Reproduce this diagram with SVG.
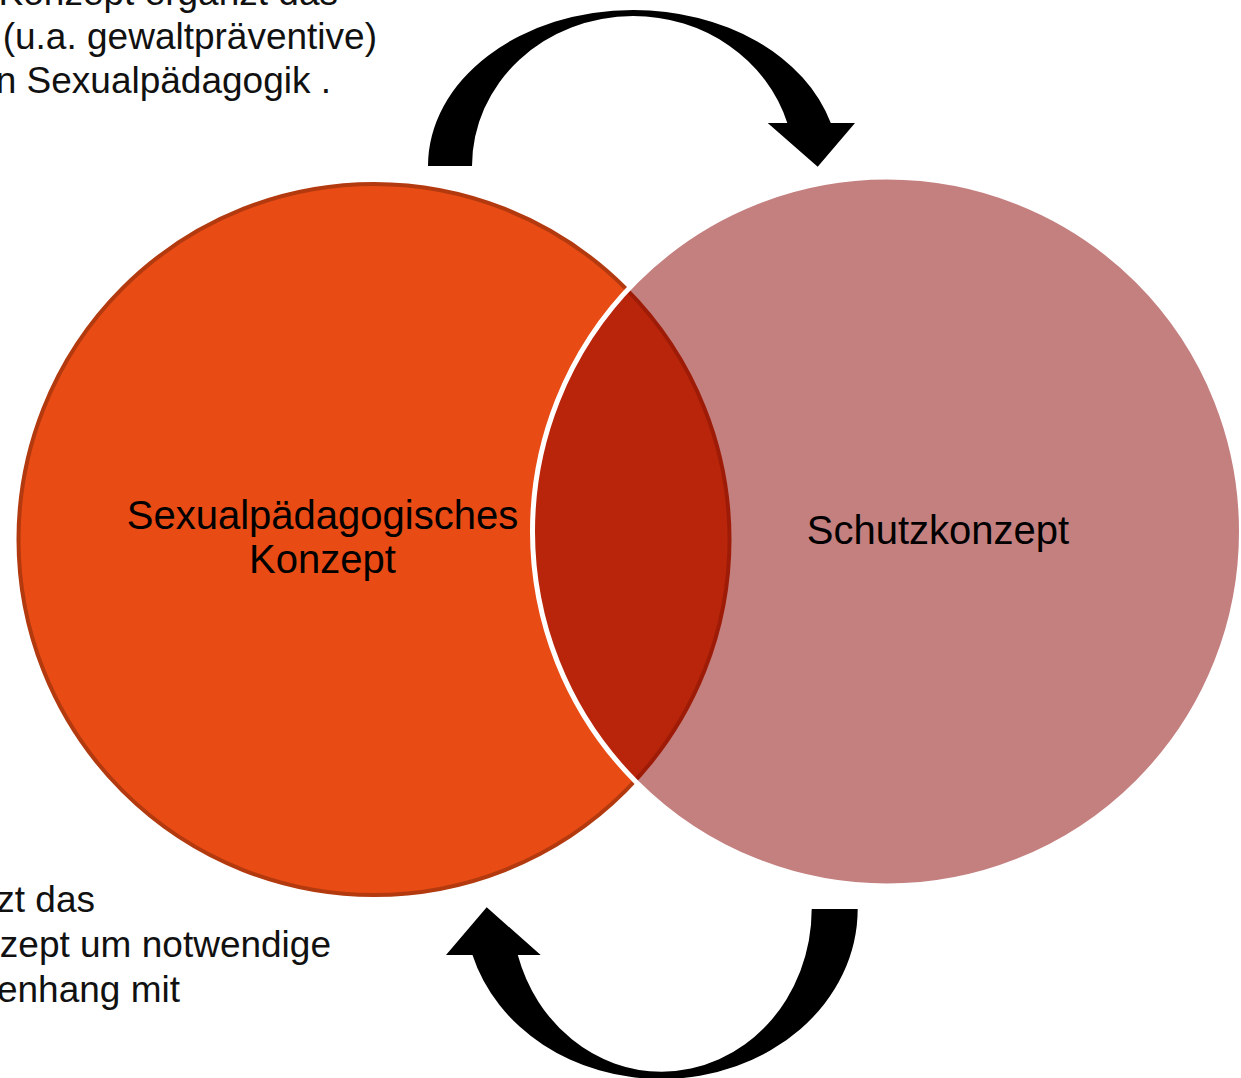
<svg xmlns="http://www.w3.org/2000/svg" width="1241" height="1078" viewBox="0 0 1241 1078">
<style>
.lbl{font-family:"Liberation Sans",Arial,sans-serif;font-size:40px;fill:#000;text-anchor:middle}
.side{font-family:"Liberation Sans",Arial,sans-serif;font-size:37px;fill:#111;text-anchor:end}
.arrow{fill:#000;stroke:none}
</style>
<rect width="1241" height="1078" fill="#fff"/>
<g id="node-sexualpaedagogisch">
<circle cx="374" cy="539.5" r="355.5" fill="#E84B14" stroke="#B3390F" stroke-width="4"/>
</g>
<g id="node-schutzkonzept">
<circle cx="887" cy="531.5" r="354.5" fill="#890000" fill-opacity="0.5" stroke="#fff" stroke-width="5"/>
<text class="lbl" x="938" y="544">Schutzkonzept</text>
</g>
<g id="label-sexualpaedagogisch">
<text class="lbl" x="322.5" y="529">Sexualpädagogisches</text>
<text class="lbl" x="322.5" y="573">Konzept</text>
</g>
<g id="connectors">
<path class="arrow" d="M428,166 A205,156 0 0 1 633,10 A205,156 0 0 1 830.8,123 L855,123 L817.7,166.7 L767.7,123 L787.3,123 A161,150 0 0 0 633,16 A161,150 0 0 0 472,166 Z"/>
<path class="arrow" d="M857.7,909 A196,170 0 0 1 661.7,1079 A196,170 0 0 1 472.5,955 L446,955 L486.7,907.3 L540.7,955 L517.8,955 A150,162.7 0 0 0 661.7,1071.7 A150,162.7 0 0 0 811.7,909 Z"/>
</g>
<g id="text-top">
<text class="side" x="338" y="5">Konzept ergänzt das</text>
<text class="side" x="377" y="49">(u.a. gewaltpräventive)</text>
<text class="side" x="331" y="93">n Sexualpädagogik .</text>
</g>
<g id="text-bottom">
<text class="side" x="95" y="912">zt das</text>
<text class="side" x="331" y="957">zept um notwendige</text>
<text class="side" x="180" y="1002">enhang mit</text>
</g>
</svg>
